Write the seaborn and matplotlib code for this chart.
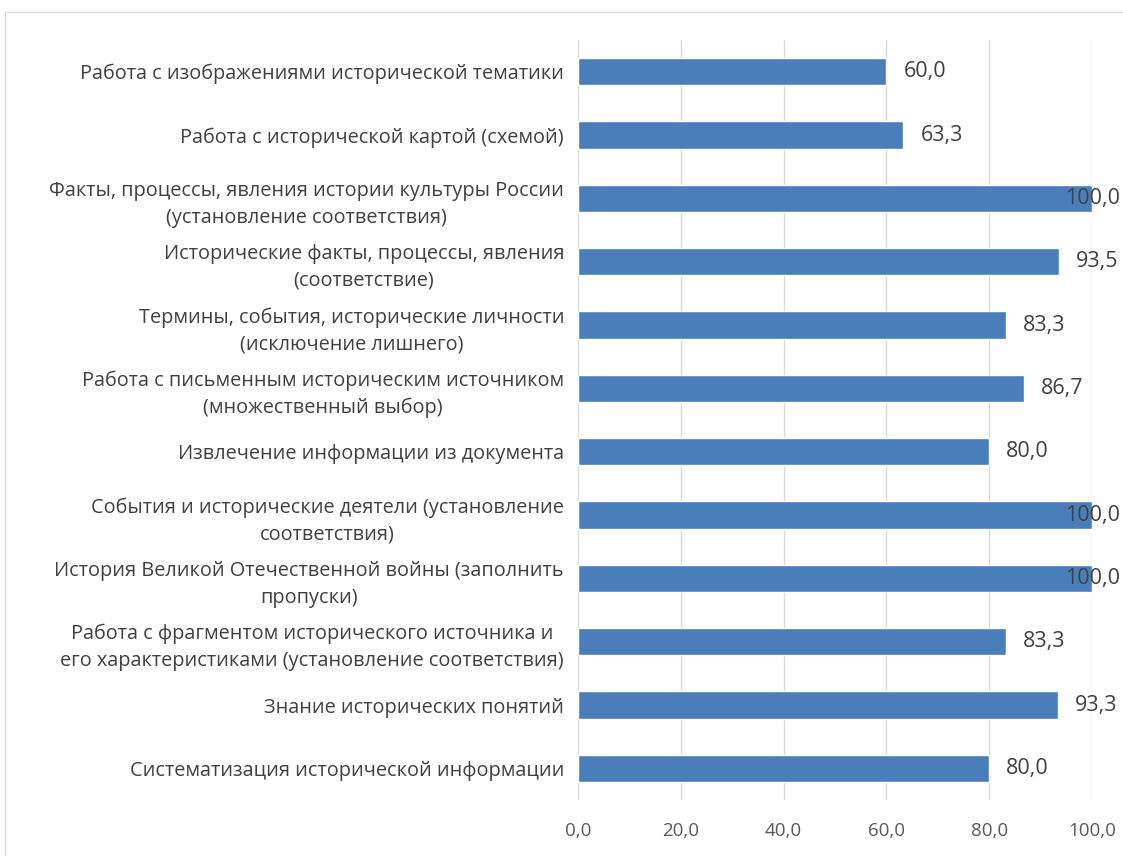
import matplotlib
matplotlib.use("Agg")
import matplotlib.pyplot as plt
from matplotlib.patches import Rectangle
import seaborn as sns
import pandas as pd

# data (top to bottom)
categories = [
    "Работа с изображениями исторической тематики",
    "Работа с исторической картой (схемой)",
    "Факты, процессы, явления истории культуры России\n(установление соответствия)",
    "Исторические факты, процессы, явления\n(соответствие)",
    "Термины, события, исторические личности\n(исключение лишнего)",
    "Работа с письменным историческим источником\n(множественный выбор)",
    "Извлечение информации из документа",
    "События и исторические деятели (установление\nсоответствия)",
    "История Великой Отечественной войны (заполнить\nпропуски)",
    "Работа с фрагментом исторического источника и\nего характеристиками (установление соответствия)",
    "Знание исторических понятий",
    "Систематизация исторической информации",
]
values = [60.0, 63.3, 100.0, 93.5, 83.3, 86.7, 80.0, 100.0, 100.0, 83.3, 93.3, 80.0]
x_ticks = [0, 20, 40, 60, 80, 100]

df = pd.DataFrame({"cat": categories, "val": values})

sns.set_style("white")
plt.rcParams["font.family"] = ["Open Sans", "DejaVu Sans"]

fig = plt.figure(figsize=(11.23, 8.56), dpi=100)
ax = fig.add_axes([578 / 1123, 1 - 800 / 856, (1092 - 578) / 1123, 760 / 856])

sns.barplot(data=df, x="val", y="cat", orient="h", color="#4A7EBB",
            saturation=1, width=0.43, ax=ax, zorder=3)

ax.set_xlim(0, 100)
ax.set_ylim(len(categories) - 0.5, -0.5)
ax.set_xticks(x_ticks)
ax.set_xticklabels([f"{t:.1f}".replace(".", ",") for t in x_ticks],
                   fontsize=13.5, color="#595959")
ax.grid(axis="x", color="#D9D9D9", linewidth=1, zorder=0)
ax.tick_params(axis="x", length=4, color="#D9D9D9", pad=12)
ax.tick_params(axis="y", length=0, pad=10)
for lbl in ax.get_yticklabels():
    lbl.set_multialignment("center")
    lbl.set_linespacing(1.45)
    lbl.set_fontsize(14.3)
    lbl.set_color("#404040")
ax.set_xlabel("")
ax.set_ylabel("")
for s in ax.spines.values():
    s.set_visible(False)

# value labels; labels of full bars are pushed back inside the chart area
for i, v in enumerate(values):
    txt = f"{v:.1f}".replace(".", ",")
    if v >= 99:
        ax.text(105.4, i, txt, ha="right", va="center", fontsize=15.5,
                color="#404040", zorder=5, clip_on=False)
    else:
        ax.text(v + 3.3, i, txt, ha="left", va="center", fontsize=15.5,
                color="#404040", zorder=5)

# chart frame
fig.patches.append(Rectangle((5 / 1123, -0.1), 1.2, 1.1 - 12 / 856,
                             transform=fig.transFigure, fill=False,
                             edgecolor="#D9D9D9", linewidth=1))

fig.savefig("out.png", dpi=100)
